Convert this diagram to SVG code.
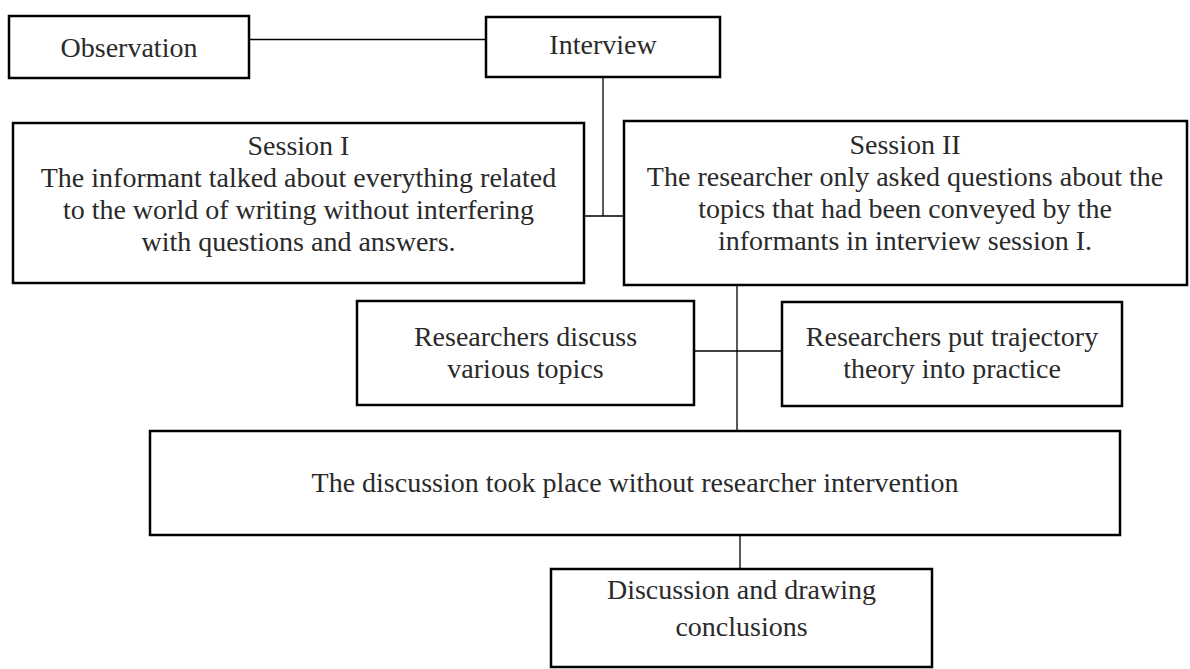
<svg xmlns="http://www.w3.org/2000/svg" width="1190" height="669" viewBox="0 0 1190 669">
<style>
.box{fill:#fff;stroke:#000;stroke-width:2.5}
.ln{stroke:#000;stroke-width:1.3;fill:none}
text{font-family:"Liberation Serif","Times New Roman",serif;font-size:28px;fill:#2a2a2a;text-anchor:middle}
</style>
<rect width="1190" height="669" fill="#fff"/>
<g id="connectors">
<line class="ln" x1="249" y1="39.5" x2="486" y2="39.5"/>
<line class="ln" x1="603" y1="77" x2="603" y2="216"/>
<line class="ln" x1="584" y1="216" x2="624" y2="216"/>
<line class="ln" x1="737" y1="285" x2="737" y2="431"/>
<line class="ln" x1="694" y1="351" x2="782" y2="351"/>
<line class="ln" x1="740" y1="535" x2="740" y2="569"/>
</g>
<g id="observation">
<rect class="box" x="9" y="16" width="240" height="62"/>
<text x="129" y="57">Observation</text>
</g>
<g id="interview">
<rect class="box" x="486" y="17" width="234" height="60"/>
<text x="603" y="54">Interview</text>
</g>
<g id="session1">
<rect class="box" x="13" y="123" width="571" height="160"/>
<text x="298.5" y="155">Session I</text>
<text x="298.5" y="187">The informant talked about everything related</text>
<text x="298.5" y="219">to the world of writing without interfering</text>
<text x="298.5" y="251">with questions and answers.</text>
</g>
<g id="session2">
<rect class="box" x="624" y="121" width="563" height="164"/>
<text x="905" y="154">Session II</text>
<text x="905" y="186">The researcher only asked questions about the</text>
<text x="905" y="218">topics that had been conveyed by the</text>
<text x="905" y="250">informants in interview session I.</text>
</g>
<g id="discuss-topics">
<rect class="box" x="357" y="301" width="337" height="104"/>
<text x="525.5" y="346">Researchers discuss</text>
<text x="525.5" y="378">various topics</text>
</g>
<g id="trajectory">
<rect class="box" x="782" y="302" width="340" height="104"/>
<text x="952" y="346">Researchers put trajectory</text>
<text x="952" y="378">theory into practice</text>
</g>
<g id="discussion">
<rect class="box" x="150" y="431" width="970" height="104"/>
<text x="635" y="492">The discussion took place without researcher intervention</text>
</g>
<g id="conclusions">
<rect class="box" x="551" y="569" width="381" height="98"/>
<text x="741.5" y="599">Discussion and drawing</text>
<text x="741.5" y="636">conclusions</text>
</g>
</svg>
